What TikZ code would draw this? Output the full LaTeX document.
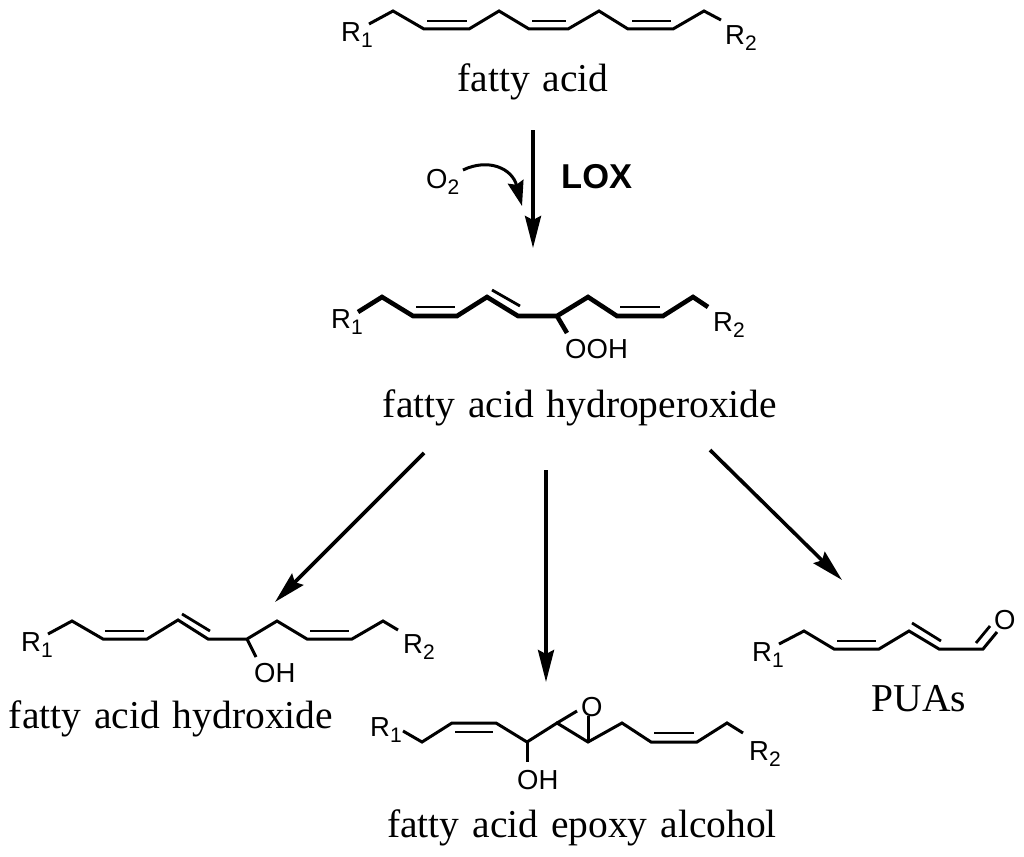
\documentclass[tikz,border=0pt]{standalone}
\usepackage{fontspec}
\setmainfont[WordSpace=1.3]{Liberation Serif}
\setsansfont{Liberation Sans}
\usetikzlibrary{arrows.meta}
\newcommand{\lowdigit}[1]{{\fontsize{21}{21}\selectfont\raisebox{-6pt}{#1}}}
\tikzset{
  bond/.style={line width=3pt,line join=miter},
  heavybond/.style={line width=4.6pt,line join=miter},
  inner/.style={line width=2.8pt},
  rxn/.style={line width=3.6pt,-{Stealth[length=32pt,width=16pt,inset=4pt]}},
  atom/.style={anchor=base west,inner sep=0pt,font=\sffamily\fontsize{27.5}{27.5}\selectfont},
  title/.style={anchor=base,inner sep=0pt,font=\fontsize{39.5}{40}\selectfont},
}
\begin{document}
\begin{tikzpicture}[x=1pt,y=-1pt]
\useasboundingbox (0,0) rectangle (1024,856);
% fatty acid
\draw [bond] (369,24) -- (393,11) -- (424,29) -- (469,29) -- (499,11) -- (529,29) -- (568,29) -- (599,11) -- (628,29) -- (673,29) -- (704,11) -- (721,20);
\draw [inner] (427,21) -- (467,21);
\draw [inner] (532,21) -- (566,21);
\draw [inner] (632,21) -- (671,21);
\node [atom] (faR1) at (341,42) {R\lowdigit{1}};
\node [atom] (faR2) at (725,45) {R\lowdigit{2}};
\node [title] (faname) at (533,92) {fatty acid};
% LOX step
\coordinate (loxstart) at (533,130);
\coordinate (loxend) at (533,248);
\draw [rxn] (loxstart) -- (loxend);
\node [atom] (oxygen) at (426,188) {O\lowdigit{2}};
\coordinate (oxstart) at (463,170);
\coordinate (oxend) at (522,206);
\draw [rxn,line width=3pt,-{Stealth[length=25pt,width=16pt,inset=3pt]}] (oxstart) .. controls (488,158) and (512,168) .. (oxend);
\node [atom,font=\sffamily\bfseries\fontsize{34.5}{34.5}\selectfont] (lox) at (561,188) {LOX};
% fatty acid hydroperoxide
\draw [heavybond] (358,312) -- (382,297) -- (413,316) -- (457,316) -- (487,297) -- (518,316) -- (557,316) -- (588,297) -- (617,316) -- (663,316) -- (693,297) -- (708,307);
\draw [heavybond] (557,316) -- (567,333);
\draw [inner] (416,307) -- (455,307);
\draw [inner] (492,290) -- (520,306);
\draw [inner] (620,307) -- (660,307);
\node [atom] (hpR1) at (331,328) {R\lowdigit{1}};
\node [atom] (hpR2) at (713,331) {R\lowdigit{2}};
\node [atom] (ooh) at (565,358) {OOH};
\node [title] (hpname) at (580,417) {fatty acid hydroperoxide};
% three branches
\coordinate (leftstart) at (424,453);
\coordinate (leftend) at (275,602);
\draw [rxn] (leftstart) -- (leftend);
\coordinate (midstart) at (546,470);
\coordinate (midend) at (546,682);
\draw [rxn] (midstart) -- (midend);
\coordinate (rightstart) at (710,450);
\coordinate (rightend) at (842,580);
\draw [rxn] (rightstart) -- (rightend);
% fatty acid hydroxide
\draw [bond] (48,634) -- (72,621) -- (103,639) -- (147,639) -- (178,620) -- (208,639) -- (247,639) -- (277,621) -- (307,639) -- (352,639) -- (383,621) -- (398,630);
\draw [bond] (247,639) -- (256,657);
\draw [inner] (105,631) -- (144,631);
\draw [inner] (182,614) -- (210,631);
\draw [inner] (310,631) -- (349,631);
\node [atom] (hyR1) at (21,651) {R\lowdigit{1}};
\node [atom] (hyR2) at (403,653) {R\lowdigit{2}};
\node [atom] (hyoh) at (254,682) {OH};
\node [title] (hyname) at (171,728) {fatty acid hydroxide};
% fatty acid epoxy alcohol
\draw [bond] (403,731) -- (422,742) -- (452,723) -- (496,723) -- (527,742) -- (557,723) -- (588,742) -- (622,723) -- (651,742) -- (697,742) -- (727,723) -- (743,733);
\draw [bond] (527,742) -- (527,762);
\draw [bond] (557,723) -- (577,711);
\draw [bond] (588,742) -- (588,716);
\draw [inner] (455,732) -- (493,732);
\draw [inner] (654,733) -- (694,733);
\node [atom] (epR1) at (370,736) {R\lowdigit{1}};
\node [atom] (epR2) at (749,760) {R\lowdigit{2}};
\node [atom] (epoh) at (517,789) {OH};
\node [atom] (epo) at (581,716) {O};
\node [title] (epname) at (582,837) {fatty acid epoxy alcohol};
% PUAs
\draw [bond] (779,644) -- (804,631) -- (834,649) -- (879,649) -- (909,631) -- (939,649) -- (983,649) -- (997,632);
\draw [inner] (837,641) -- (876,641);
\draw [inner] (912,623) -- (941,641);
\draw [inner] (976,643) -- (990,626);
\node [atom] (puR1) at (752,661) {R\lowdigit{1}};
\node [atom] (puo) at (994,629) {O};
\node [title] (puname) at (919,711) {PUAs};
\end{tikzpicture}
\end{document}
